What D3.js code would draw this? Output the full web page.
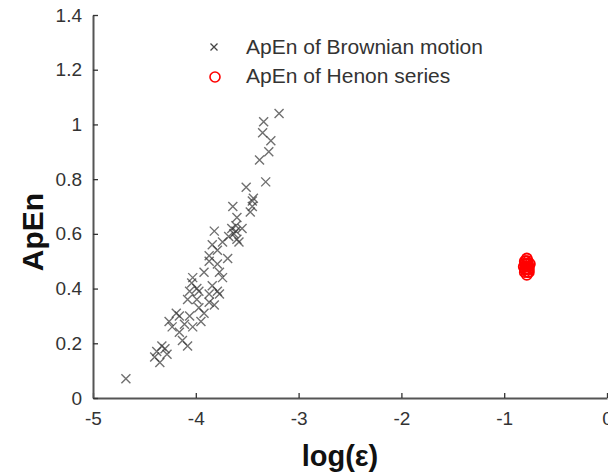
<!DOCTYPE html>
<html>
<head>
<meta charset="utf-8">
<script src="https://cdn.jsdelivr.net/npm/d3@7"></script>
<style>
  body { margin: 0; background: #fff; }
  text { font-family: "Liberation Sans", Arial, sans-serif; }
</style>
</head>
<body>
<svg id="viz" width="608" height="475"></svg>
<script>
// Brownian motion ApEn points (log eps, ApEn)
var brownX = [-4.68,-3.19,-3.34,-3.35,-3.27,-3.29,-3.38,-3.32,-3.51,-3.44,-3.45,-3.45,-3.47,-3.64,-3.60,-3.65,
  -3.61,-3.55,-3.82,-3.68,-3.60,-3.84,-3.74,-3.61,-3.63,-3.58,-3.79,-3.87,-3.87,-3.77,-3.92,-3.74,-4.03,-3.84,
  -3.79,-4.06,-3.87,-4.04,-3.99,-3.77,-4.08,-3.87,-3.97,-4.19,-4.06,-3.95,-4.03,-4.23,-4.16,-4.16,-4.13,-4.08,
  -4.33,-4.38,-4.28,-4.35,-4.40,-4.30,-3.99,-3.92,-3.82,-3.79,-3.69,-3.97,-4.26,-4.11];
var brownY = [0.07,1.04,1.01,0.97,0.94,0.90,0.87,0.79,0.77,0.73,0.72,0.70,0.68,0.70,0.66,0.62,
  0.61,0.62,0.61,0.59,0.58,0.56,0.57,0.63,0.60,0.57,0.54,0.52,0.50,0.46,0.46,0.44,0.44,0.41,
  0.39,0.39,0.38,0.42,0.40,0.38,0.36,0.35,0.33,0.31,0.30,0.28,0.26,0.26,0.30,0.24,0.21,0.19,
  0.19,0.17,0.16,0.13,0.15,0.18,0.36,0.31,0.34,0.49,0.51,0.39,0.28,0.27];

// Henon series ApEn points
var henonX = [-0.80,-0.78,-0.76,-0.79,-0.77,-0.81,-0.75,-0.78,-0.80,-0.77,-0.79,-0.76,-0.78,-0.80,-0.77,-0.79,
  -0.78,-0.76,-0.80,-0.77];
var henonY = [0.50,0.49,0.48,0.47,0.46,0.48,0.49,0.51,0.46,0.50,0.48,0.47,0.45,0.49,0.47,0.50,
  0.48,0.46,0.47,0.49];

var xTicks = [-5,-4,-3,-2,-1,0];
var yTicks = [0,0.2,0.4,0.6,0.8,1,1.2,1.4];
var legendLabels = ["ApEn of Brownian motion", "ApEn of Henon series"];

var margins = {top: 15, right: 0, bottom: 77, left: 93};

var svg = d3.select("#viz"),
    width = +svg.attr("width") - margins.left - margins.right,
    height = +svg.attr("height") - margins.top - margins.bottom;

var xScale = d3.scaleLinear().domain([-5,0]).range([margins.left, margins.left + width - 1]);
var yScale = d3.scaleLinear().domain([0,1.4]).range([margins.top + height, margins.top]);

// axes (ticks point inward like matlab)
var xAxis = svg.append("g")
  .attr("transform", "translate(0," + yScale(0) + ")")
  .call(d3.axisBottom(xScale).tickValues(xTicks).tickSizeInner(-5).tickSizeOuter(0).tickPadding(14)
    .tickFormat(function(d){ return String(d); }));
var yAxis = svg.append("g")
  .attr("transform", "translate(" + xScale(-5) + ",0)")
  .call(d3.axisLeft(yScale).tickValues(yTicks).tickSizeInner(-5).tickSizeOuter(0).tickPadding(11)
    .tickFormat(function(d){ return String(d); }));

[xAxis, yAxis].forEach(function(ax){
  ax.select(".domain").attr("stroke", "#555").attr("stroke-width", 2);
  ax.selectAll(".tick line").attr("stroke", "#333").attr("stroke-width", 1.3);
  ax.selectAll(".tick text").attr("fill", "#333").style("font-size", "19px")
    .style("font-family", "'Liberation Sans', Arial, sans-serif");
});

// brownian crosses
var cross = function(x, y, s){
  return "M" + (x-s) + "," + (y-s) + "L" + (x+s) + "," + (y+s) + "M" + (x-s) + "," + (y+s) + "L" + (x+s) + "," + (y-s);
};
var brown = brownX.map(function(x, i){ return {x: x, y: brownY[i]}; });
svg.append("g").selectAll("path")
  .data(brown).enter().append("path")
  .attr("d", function(d){ return cross(xScale(d.x), yScale(d.y), 4.5); })
  .attr("stroke", "#333").attr("stroke-opacity", 0.7).attr("stroke-width", 1.4).attr("fill", "none");

// henon circles
var henon = henonX.map(function(x, i){ return {x: x, y: henonY[i]}; });
svg.append("g").selectAll("circle")
  .data(henon).enter().append("circle")
  .attr("cx", function(d){ return xScale(d.x); })
  .attr("cy", function(d){ return yScale(d.y); })
  .attr("r", 5)
  .attr("fill", "none").attr("stroke", "red").attr("stroke-width", 1.8);

// legend
var legend = svg.append("g");
legend.append("path").attr("d", cross(214, 47, 3.5))
  .attr("stroke", "#444").attr("stroke-width", 1.3).attr("fill", "none");
legend.append("circle").attr("cx", 215).attr("cy", 77).attr("r", 5)
  .attr("fill", "none").attr("stroke", "red").attr("stroke-width", 1.6);
legend.selectAll("text").data(legendLabels).enter().append("text")
  .attr("x", 246).attr("y", function(d, i){ return 54 + i * 29; })
  .attr("fill", "#333").style("font-size", "21px")
  .text(function(d){ return d; });

// axis titles
svg.append("text")
  .attr("transform", "translate(43,232) rotate(-90)")
  .attr("text-anchor", "middle").attr("font-weight", "bold").style("font-size", "30px")
  .attr("fill", "#111").text("ApEn");
svg.append("text")
  .attr("x", 340).attr("y", 466)
  .attr("text-anchor", "middle").attr("font-weight", "bold").style("font-size", "29px")
  .attr("fill", "#111").text("log(ε)");
</script>
</body>
</html>
